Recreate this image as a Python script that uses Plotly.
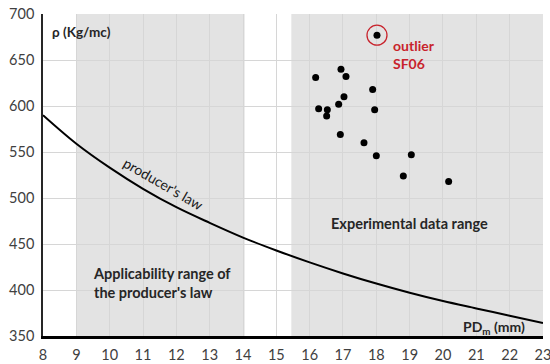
import plotly.graph_objects as go

# Producer's law curve (read at integer PD values)
law_x = [8, 9, 10, 11, 12, 13, 14, 15, 16, 17, 18, 19, 20, 21, 22, 23]
law_y = [590, 559, 533, 510, 490, 473, 457, 443, 430, 418, 407, 397, 388, 380, 372, 364]

# Experimental data
exp_x = [16.18, 16.94, 17.09, 17.89, 17.03, 16.87, 16.27, 16.53, 16.51, 17.95,
         16.92, 17.63, 18.00, 19.05, 18.81, 20.17]
exp_y = [631, 640, 632, 618, 610, 602, 597, 596, 589, 596,
         569, 560, 546, 547, 524, 518]

outlier_x = [18.02]
outlier_y = [677]

x_ticks = list(range(8, 24))
y_ticks = [350, 400, 450, 500, 550, 600, 650, 700]

applic_range = [9, 14.05]
exp_range = [15.45, 23]

FONT = "Lato"
fig = go.Figure()

fig.add_trace(go.Scatter(x=law_x, y=law_y, mode="lines", line=dict(color="black", width=2, shape="spline"),
                         hoverinfo="skip", showlegend=False))
fig.add_trace(go.Scatter(x=exp_x, y=exp_y, mode="markers",
                         marker=dict(color="black", size=7), showlegend=False))
fig.add_trace(go.Scatter(x=outlier_x, y=outlier_y, mode="markers",
                         marker=dict(color="black", size=7), showlegend=False))
fig.add_trace(go.Scatter(x=outlier_x, y=outlier_y, mode="markers",
                         marker=dict(symbol="circle-open", color="#c8232c", size=20, line=dict(width=1.3, color="#c8232c")),
                         showlegend=False))

for r in (applic_range, exp_range):
    fig.add_shape(type="rect", xref="x", yref="y", x0=r[0], x1=r[1], y0=350, y1=700,
                  fillcolor="#e3e3e3", line=dict(width=0), layer="below")

annos = [
    dict(x=8.2, y=680, text="<b>ρ (Kg/mc)</b>", xanchor="left", font=dict(size=13.5, color="#262626")),
    dict(x=11.6, y=516, text="producer's law", textangle=30, font=dict(size=14, color="#1a1a1a")),
    dict(x=19.0, y=472, text="<b>Experimental data range</b>", font=dict(size=14.5, color="#262626")),
    dict(x=9.45, y=408, text="<b>Applicability range of<br>the producer's law</b>", xanchor="left", align="left",
         font=dict(size=14.5, color="#262626")),
    dict(x=21.54, y=359, text="<b>PD<sub>m</sub> (mm)</b>", font=dict(size=14, color="#262626")),
    dict(x=18.45, y=656, text="<b>outlier<br>SF06</b>", xanchor="left", align="left",
         font=dict(size=14, color="#c8232c")),
]
for a in annos:
    a.setdefault("showarrow", False)
    a.setdefault("xref", "x")
    a.setdefault("yref", "y")
    fig.add_annotation(**a)

fig.update_layout(
    width=550, height=364,
    margin=dict(l=43, r=7, t=14, b=28),
    paper_bgcolor="white", plot_bgcolor="white",
    font=dict(family=FONT, size=14, color="#404040"),
    xaxis=dict(range=[7.999, 23.001], tickvals=x_ticks, showgrid=True, gridcolor="#d6d6d6", gridwidth=1,
               showline=True, linecolor="black", linewidth=2.5, zeroline=False, ticks="",
               ticklabelstandoff=4, ticklabeloverflow="allow", automargin=False,
               tickfont=dict(size=14.5, color="#404040")),
    yaxis=dict(range=[350, 700], tickvals=y_ticks, showgrid=True, gridcolor="#d6d6d6", gridwidth=1,
               showline=True, linecolor="#262626", linewidth=1.5, zeroline=False, ticks="",
               ticklabelstandoff=4, automargin=False,
               tickfont=dict(size=14.5, color="#404040")),
)

fig.write_html("out.html")
